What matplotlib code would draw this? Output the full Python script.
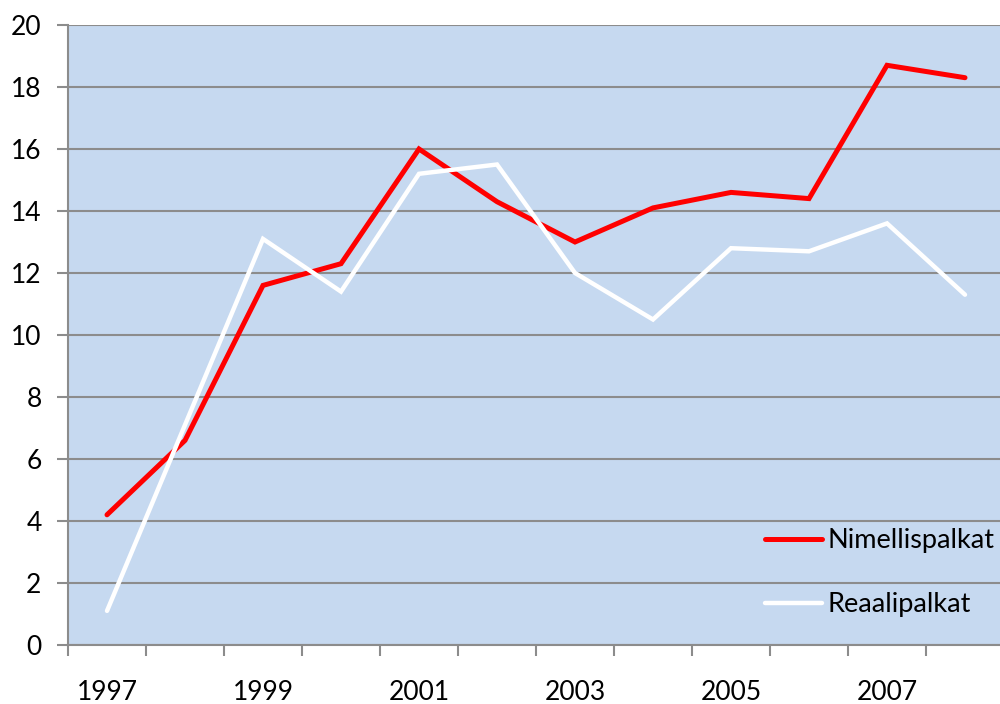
import matplotlib.pyplot as plt
import numpy as np

# data
years = list(range(1997, 2009))
nimellis = [4.2, 6.6, 11.6, 12.3, 16.0, 14.3, 13.0, 14.1, 14.6, 14.4, 18.7, 18.3]
reaali = [1.1, 7.1, 13.1, 11.4, 15.2, 15.5, 12.0, 10.5, 12.8, 12.7, 13.6, 11.3]
tick_years = [1997, 1999, 2001, 2003, 2005, 2007]

plt.rcParams['font.family'] = ['Lato', 'DejaVu Sans']

fig = plt.figure(figsize=(10, 7.04), dpi=100)
ax = fig.add_axes([0.068, 59 / 704, 0.936, 620 / 704])
ax.set_facecolor('#c6d9f0')

x = np.arange(len(years))
ax.plot(x, nimellis, color='#ff0000', lw=3.6, solid_capstyle='round',
        solid_joinstyle='miter', label='Nimellispalkat', zorder=3)
ax.plot(x, reaali, color='white', lw=3.2, solid_capstyle='round',
        solid_joinstyle='miter', label='Reaalipalkat', zorder=3)

ax.set_xlim(-0.5, len(years) - 0.5)
ax.set_ylim(0, 20)
ax.set_yticks(range(0, 21, 2))

# ticks on category boundaries, labels every other year at centres
ax.set_xticks(np.arange(len(years) + 1) - 0.5)
ax.set_xticklabels([])
ax.set_xticks([years.index(y) for y in tick_years], minor=True)
ax.set_xticklabels([str(y) for y in tick_years], minor=True)
ax.tick_params(axis='x', which='minor', length=0, pad=25, labelsize=19)
ax.tick_params(axis='x', which='major', length=8, width=1.5, color='#8c8c8c')
ax.tick_params(axis='y', length=8, width=1.5, color='#8c8c8c', pad=11, labelsize=19)

ax.grid(axis='y', color='#8c8c8c', lw=1.5)
ax.set_axisbelow(True)
for s in ['top', 'right']:
    ax.spines[s].set_visible(False)
for s in ['left', 'bottom']:
    ax.spines[s].set_color('#8c8c8c')
    ax.spines[s].set_linewidth(1.5)

leg = ax.legend(loc='upper left', bbox_to_anchor=(0.765, 0.25), bbox_transform=fig.transFigure,
                frameon=False, fontsize=19.5, handlelength=2.1, handletextpad=0.2,
                labelspacing=1.45, borderaxespad=0, borderpad=0)

fig.savefig('out.png', dpi=100)
